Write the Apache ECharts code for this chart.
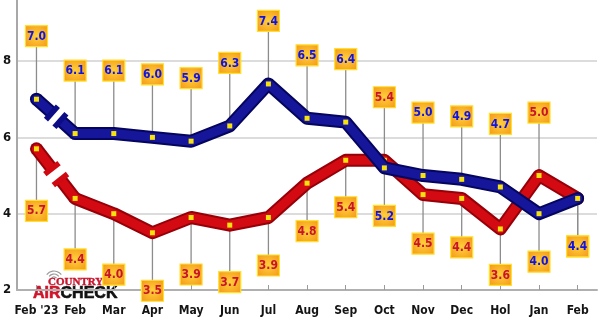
<!DOCTYPE html>
<html>
<head>
<meta charset="utf-8">
<script src="https://cdn.jsdelivr.net/npm/echarts@6/dist/echarts.min.js"></script>
<style>
html, body { margin: 0; padding: 0; background: #ffffff; }
#chart { width: 600px; height: 323px; }
</style>
</head>
<body>
<div id="chart"></div>
<script>
// Month categories along the x axis
const months = ["Feb '23", "Feb", "Mar", "Apr", "May", "Jun", "Jul", "Aug", "Sep", "Oct", "Nov", "Dec", "Hol", "Jan", "Feb"];
// Blue series values
const blueValues = [7.0, 6.1, 6.1, 6.0, 5.9, 6.3, 7.4, 6.5, 6.4, 5.2, 5.0, 4.9, 4.7, 4.0, 4.4];
// Red series values
const redValues = [5.7, 4.4, 4.0, 3.5, 3.9, 3.7, 3.9, 4.8, 5.4, 5.4, 4.5, 4.4, 3.6, 5.0, 4.4];
// Y axis tick labels
const yTicks = [2, 4, 6, 8];

// Distance (px) from a point to the centre of its value tag
const GAP_UP = 63;
const redGapDown = [62, 61, 61, 58, 57, 57, 48, 48, 47, 48, 49, 49, 46, 48, 48];
const blueGapDown = 48;

const BLUE = { dark: '#05055e', main: '#16169a', cap: '#0c0c86', text: '#0c14e6' };
const RED = { dark: '#960009', main: '#d40a12', cap: '#d00812', text: '#c8142c' };

const chart = echarts.init(document.getElementById('chart'), null, { renderer: 'canvas' });

function tagFill() {
  return new echarts.graphic.RadialGradient(0.5, 0.5, 0.72, [
    { offset: 0, color: '#ffd03a' },
    { offset: 1, color: '#f49418' }
  ]);
}

// Where a series tag sits: above the point when it is the higher series
function tagCentre(values, others, i, p, isRed) {
  const up = values[i] > others[i];
  if (up) return p[1] - GAP_UP;
  return p[1] + (isRed ? redGapDown[i] : blueGapDown);
}

function stemRenderer(values, others, isRed) {
  return function (params, api) {
    const i = api.value(0);
    const p = api.coord([i, api.value(1)]);
    const cy = tagCentre(values, others, i, p, isRed);
    return {
      type: 'line',
      shape: { x1: p[0], y1: p[1], x2: p[0], y2: cy },
      style: { stroke: '#8c8c8c', lineWidth: 1.3 }
    };
  };
}

function tagRenderer(values, others, isRed, colors) {
  return function (params, api) {
    const i = api.value(0);
    const v = api.value(1);
    const p = api.coord([i, v]);
    const cy = tagCentre(values, others, i, p, isRed);
    const w = 22, h = 21;
    return {
      type: 'group',
      children: [
        {
          type: 'rect',
          shape: { x: p[0] - w / 2, y: cy - h / 2, width: w, height: h },
          style: { fill: tagFill(), stroke: '#ffe02a', lineWidth: 1.2 }
        },
        {
          type: 'text',
          x: p[0], y: cy + 0.5,
          style: {
            text: v.toFixed(1),
            fill: colors.text,
            font: 'bold 12px "DejaVu Sans Condensed", "DejaVu Sans", sans-serif',
            align: 'center',
            verticalAlign: 'middle'
          }
        }
      ]
    };
  };
}

// First segment: drawn in two pieces with a scale-break gap between them
function breakRenderer(colors) {
  return function (params, api) {
    const a = api.coord([0, api.value(1)]);
    const b = api.coord([1, api.value(2)]);
    const dx = b[0] - a[0], dy = b[1] - a[1];
    const len = Math.hypot(dx, dy);
    const nx = -dy / len, ny = dx / len;
    const m1 = [a[0] + dx * 0.4, a[1] + dy * 0.4];
    const m2 = [a[0] + dx * 0.62, a[1] + dy * 0.62];
    const piece = (s, e, width, color) => ({
      type: 'line',
      shape: { x1: s[0], y1: s[1], x2: e[0], y2: e[1] },
      style: { stroke: color, lineWidth: width, lineCap: 'butt' }
    });
    const cap = (m) => ({
      type: 'line',
      shape: { x1: m[0] - nx * 9, y1: m[1] - ny * 9, x2: m[0] + nx * 9, y2: m[1] + ny * 9 },
      style: { stroke: colors.cap, lineWidth: 5.5, lineCap: 'butt' }
    });
    return {
      type: 'group',
      children: [
        { type: 'circle', shape: { cx: a[0], cy: a[1], r: 6.5 }, style: { fill: colors.dark } },
        piece(a, m1, 13, colors.dark),
        piece(m2, b, 13, colors.dark),
        { type: 'circle', shape: { cx: a[0], cy: a[1], r: 4.5 }, style: { fill: colors.main } },
        piece(a, m1, 9, colors.main),
        piece(m2, b, 9, colors.main),
        cap(m1),
        cap(m2),
        { type: 'rect', shape: { x: a[0] - 2.5, y: a[1] - 2.5, width: 5, height: 5 }, style: { fill: '#f6e20e' } }
      ]
    };
  };
}

function tail(values) {
  return values.map((v, i) => (i === 0 ? '-' : v));
}
function pairs(values) {
  return values.map((v, i) => [i, v]);
}

function tubeSeries(values, colors, z) {
  return [
    {
      type: 'line', data: tail(values), z: z, showSymbol: false, silent: true,
      lineStyle: { color: colors.dark, width: 13, cap: 'round', join: 'round' },
      itemStyle: { color: colors.dark }
    },
    {
      type: 'line', data: tail(values), z: z + 1, silent: true,
      symbol: 'rect', symbolSize: 5, showSymbol: true,
      lineStyle: { color: colors.main, width: 9, cap: 'round', join: 'round' },
      itemStyle: { color: '#f6e20e', borderWidth: 0 }
    },
    {
      type: 'custom', z: z + 1, silent: true,
      data: [[0, values[0], values[1]]],
      renderItem: breakRenderer(colors)
    }
  ];
}

// Horizontal guide lines at the labelled y values (the bottom one is the x axis itself)
const gridLines = {
  type: 'line', data: [], z: 0, silent: true,
  markLine: {
    z: 0,
    silent: true, symbol: 'none', animation: false,
    label: { show: false },
    lineStyle: { color: '#dcdcdc', width: 2, type: 'solid' },
    emphasis: { disabled: true },
    data: yTicks.filter(v => v > yTicks[0]).map(v => ({ yAxis: v }))
  }
};

const option = {
  animation: false,
  backgroundColor: '#ffffff',
  grid: { left: 17, right: 3, top: 0, bottom: 33, containLabel: false },
  xAxis: {
    type: 'category',
    data: months,
    boundaryGap: true,
    axisLine: { show: true, lineStyle: { color: '#b0b0b0', width: 2 } },
    axisTick: { show: true, inside: true, length: 5, alignWithLabel: true, lineStyle: { color: '#9a9a9a', width: 1 } },
    axisLabel: {
      interval: 0, margin: 15, color: '#141414',
      fontFamily: '"DejaVu Sans Condensed", "DejaVu Sans", sans-serif',
      fontWeight: 'bold', fontSize: 12
    },
    splitLine: { show: false }
  },
  yAxis: {
    type: 'value',
    min: 2, max: 9.6, interval: 2,
    axisLine: { show: true, lineStyle: { color: '#a8a8a8', width: 2 } },
    axisTick: { show: false },
    axisLabel: {
      customValues: yTicks,
      margin: 6, color: '#141414',
      fontFamily: '"DejaVu Sans Condensed", "DejaVu Sans", sans-serif',
      fontWeight: 'bold', fontSize: 13,
      padding: [12, 0, 0, 0]
    },
    splitLine: { show: false }
  },
  series: [
    gridLines,
    { type: 'custom', z: 1, silent: true, data: pairs(redValues), renderItem: stemRenderer(redValues, blueValues, true) },
    { type: 'custom', z: 1, silent: true, data: pairs(blueValues), renderItem: stemRenderer(blueValues, redValues, false) },
    ...tubeSeries(redValues, RED, 2),
    ...tubeSeries(blueValues, BLUE, 4),
    { type: 'custom', z: 10, silent: true, data: pairs(redValues), renderItem: tagRenderer(redValues, blueValues, true, RED) },
    { type: 'custom', z: 10, silent: true, data: pairs(blueValues), renderItem: tagRenderer(blueValues, redValues, false, BLUE) }
  ],
  graphic: [
    {
      type: 'group', z: 20, silent: true,
      children: [
        { type: 'arc', shape: { cx: 54, cy: 280, r: 3, startAngle: -Math.PI * 0.8, endAngle: -Math.PI * 0.2 }, style: { stroke: '#9a9a9a', lineWidth: 1.2, fill: null } },
        { type: 'arc', shape: { cx: 54, cy: 280, r: 6, startAngle: -Math.PI * 0.8, endAngle: -Math.PI * 0.2 }, style: { stroke: '#9a9a9a', lineWidth: 1.2, fill: null } },
        { type: 'arc', shape: { cx: 54, cy: 280, r: 9, startAngle: -Math.PI * 0.8, endAngle: -Math.PI * 0.2 }, style: { stroke: '#9a9a9a', lineWidth: 1.2, fill: null } },
        { type: 'rect', shape: { x: 31, y: 286, width: 96, height: 16 }, style: { fill: '#ffffff' } },
        {
          type: 'text', x: 48, y: 282,
          style: {
            text: 'COUNTRY', fill: '#c8142c',
            font: 'bold 11px "Liberation Serif", serif',
            stroke: '#c8142c', lineWidth: 0.4,
            align: 'left', verticalAlign: 'middle'
          }
        },
        {
          type: 'text', x: 33, y: 294,
          style: {
            text: '{a|AIR}{c|CHECK}',
            align: 'left', verticalAlign: 'middle',
            rich: {
              a: { fill: '#d0142a', font: 'bold 16px "Liberation Sans", Arial, sans-serif', stroke: '#d0142a', lineWidth: 0.6 },
              c: { fill: '#111111', font: 'bold 16px "Liberation Sans", Arial, sans-serif', stroke: '#111111', lineWidth: 0.6 }
            }
          }
        }
      ]
    }
  ]
};

chart.setOption(option);
</script>
</body>
</html>
